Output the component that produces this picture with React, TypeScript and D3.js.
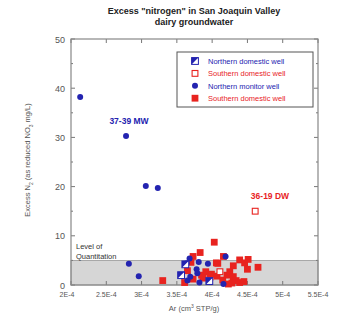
import React from "react";
import * as d3 from "d3";

const xTickValues = [2e-4, 2.5e-4, 3e-4, 3.5e-4, 4e-4, 4.5e-4, 5e-4, 5.5e-4];
const xTickLabels = ["2E-4", "2.5E-4", "3E-4", "3.5E-4", "4E-4", "4.5E-4", "5E-4", "5.5E-4"];
const yTickValues = [0, 10, 20, 30, 40, 50];
const yMinorTicks = [5, 15, 25, 35, 45];

// x in units of 1e-4 cm3 STP/g, y in mg/L
const northernMonitorX = [2.13, 2.78, 3.06, 3.23, 2.82, 2.96, 3.68, 3.64, 3.81, 3.94, 4.19, 3.78, 3.57, 3.69, 3.82, 4.16, 3.65, 3.79];
const northernMonitorY = [38.2, 30.3, 20.1, 19.7, 4.3, 1.8, 5.4, 4.4, 4.7, 4.3, 5.8, 3.2, 1.8, 1.7, 0.5, 0.2, 0.9, 2.4];

const southernFilledX = [3.30, 4.03, 3.83, 3.73, 3.70, 3.65, 3.61, 3.73, 3.85, 3.91, 3.97, 4.06, 4.07, 4.16, 4.15, 4.21, 4.23, 4.25, 4.30, 4.30, 4.39, 4.46, 4.51, 4.50, 4.39, 4.45, 4.65, 3.99, 3.87, 4.08, 4.34, 4.28];
const southernFilledY = [0.9, 8.7, 6.6, 5.8, 4.6, 2.9, 0.5, 1.2, 2.0, 2.7, 1.6, 4.5, 1.8, 5.8, 1.0, 2.0, 0.2, 2.7, 3.9, 1.7, 5.1, 4.5, 5.2, 3.2, 0.5, 0.7, 3.6, 2.2, 1.4, 4.4, 0.9, 0.4];

const southernOpenX = [4.61, 4.11];
const southernOpenY = [15.0, 2.7];

const northernDomesticX = [3.56, 3.96, 3.62];
const northernDomesticY = [2.0, 0.8, 4.2];

const legendLabels = ["Northern domestic well", "Southern domestic well", "Northern monitor well", "Southern domestic well"];

const BLUE = "#2323b0";
const RED = "#e8231f";
const GRAY = "#555";

export default function App() {
  const W = 341, H = 323;
  const left = 71, right = 318, top = 39, bottom = 285;
  const x = d3.scaleLinear().domain([2e-4, 5.5e-4]).range([left, right]);
  const y = d3.scaleLinear().domain([0, 50]).range([bottom, top]);
  const X = (v: number) => x(v * 1e-4);
  const s = 3.4;

  const halfSquare = (cx: number, cy: number, key: string) => (
    <g key={key}>
      <rect x={cx - s} y={cy - s} width={2 * s} height={2 * s} fill="white" stroke={BLUE} strokeWidth={1} />
      <path d={`M${cx - s},${cy - s}L${cx + s},${cy - s}L${cx - s},${cy + s}Z`} fill={BLUE} />
    </g>
  );
  const openSquare = (cx: number, cy: number, key: string) => (
    <rect key={key} x={cx - s + 0.5} y={cy - s + 0.5} width={2 * s - 1} height={2 * s - 1} fill="white" stroke={RED} strokeWidth={1.1} />
  );
  const filledSquare = (cx: number, cy: number, key: string) => (
    <rect key={key} x={cx - s} y={cy - s} width={2 * s} height={2 * s} fill={RED} />
  );
  const circle = (cx: number, cy: number, key: string) => (
    <circle key={key} cx={cx} cy={cy} r={3} fill={BLUE} />
  );

  const legX = 177, legY = 52, legW = 136, legH = 55;
  const legMarkers = [halfSquare, openSquare, circle, filledSquare];
  const legColors = [BLUE, RED, BLUE, RED];

  return (
    <svg width={W} height={H} style={{ display: "block", position: "absolute", left: 0, top: 0 }} fontFamily="Liberation Sans, Arial, sans-serif">
      <rect width={W} height={H} fill="white" />
      <text x={194} y={14} textAnchor="middle" fontSize={9} fontWeight="bold" fill="#222">Excess "nitrogen" in San Joaquin Valley</text>
      <text x={194} y={25} textAnchor="middle" fontSize={9} fontWeight="bold" fill="#222">dairy groundwater</text>

      {/* Level of quantitation band */}
      <rect x={left} y={y(5)} width={right - left} height={bottom - y(5)} fill="#d6d6d6" stroke="#999" strokeWidth={0.8} />
      <text x={76} y={249} fontSize={7.5} fill="#333">Level of</text>
      <text x={76} y={259} fontSize={7.5} fill="#333">Quantitation</text>

      {/* ticks */}
      {xTickValues.map((v, i) => (
        <g key={"xt" + i}>
          <line x1={x(v)} x2={x(v)} y1={bottom} y2={bottom - 4} stroke="#777" />
          <line x1={x(v)} x2={x(v)} y1={top} y2={top + 4} stroke="#777" />
          <text x={x(v) - (i === 0 ? 4 : 0)} y={bottom + 12} textAnchor="middle" fontSize={7} fill={GRAY}>{xTickLabels[i]}</text>
        </g>
      ))}
      {yTickValues.map((v, i) => (
        <g key={"yt" + i}>
          <line x1={left} x2={left + 4} y1={y(v)} y2={y(v)} stroke="#777" />
          <line x1={right} x2={right - 4} y1={y(v)} y2={y(v)} stroke="#777" />
          <text x={left - 6} y={y(v) + 3.5} textAnchor="end" fontSize={9} fill={GRAY}>{v}</text>
        </g>
      ))}
      {yMinorTicks.map((v, i) => (
        <g key={"ym" + i}>
          <line x1={left} x2={left + 2} y1={y(v)} y2={y(v)} stroke="#777" />
          <line x1={right} x2={right - 2} y1={y(v)} y2={y(v)} stroke="#777" />
        </g>
      ))}
      <rect x={left} y={top} width={right - left} height={bottom - top} fill="none" stroke="#888" strokeWidth={1.2} />

      {/* data */}
      {southernFilledX.map((v, i) => filledSquare(X(v), y(southernFilledY[i]), "sf" + i))}
      {southernOpenX.map((v, i) => openSquare(X(v), y(southernOpenY[i]), "so" + i))}
      {northernMonitorX.map((v, i) => circle(X(v), y(northernMonitorY[i]), "nm" + i))}
      {northernDomesticX.map((v, i) => halfSquare(X(v), y(northernDomesticY[i]), "nd" + i))}

      {/* annotations */}
      <text x={129} y={124} textAnchor="middle" fontSize={8.5} fontWeight="bold" fill={BLUE}>37-39 MW</text>
      <text x={270} y={199} textAnchor="middle" fontSize={8.5} fontWeight="bold" fill={RED}>36-19 DW</text>

      {/* legend */}
      <rect x={legX} y={legY} width={legW} height={legH} fill="white" stroke="#555" strokeWidth={1} />
      {legendLabels.map((l, i) => (
        <g key={"lg" + i}>
          {legMarkers[i](195, 61 + i * 12.4, "lm" + i)}
          <text x={208} y={64 + i * 12.4} fontSize={7.5} fill={legColors[i]}>{l}</text>
        </g>
      ))}

      {/* axis labels */}
      <text x={194} y={311} textAnchor="middle" fontSize={7.5} fill={GRAY}>Ar (cm<tspan dy={-3} fontSize={5}>3</tspan><tspan dy={3}> STP/g)</tspan></text>
      <text transform="translate(30,160) rotate(-90)" textAnchor="middle" fontSize={7.5} fill={GRAY}>
        Excess N<tspan dy={2.5} fontSize={5}>2</tspan><tspan dy={-2.5}> (as reduced NO</tspan><tspan dy={2.5} fontSize={5}>3</tspan><tspan dy={-2.5}> mg/L)</tspan>
      </text>
    </svg>
  );
}
